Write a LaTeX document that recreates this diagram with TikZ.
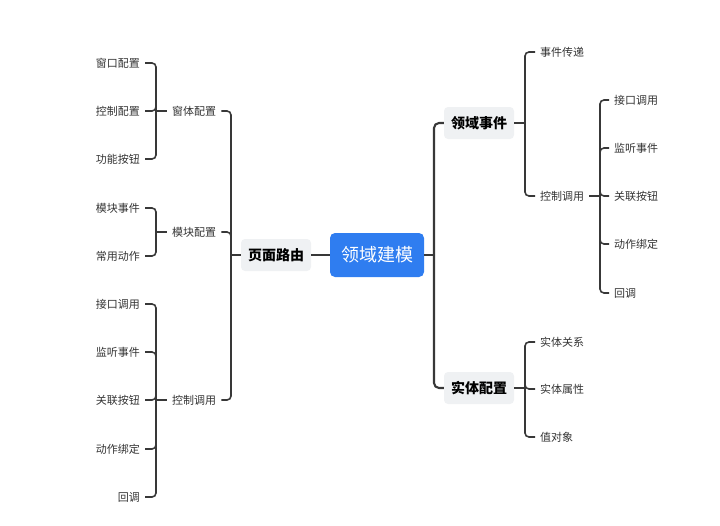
\documentclass[tikz,border=0pt]{standalone}
\usepackage{fontspec}
\setmainfont{Noto Sans CJK SC}
\usetikzlibrary{calc, positioning}
\definecolor{linegray}{HTML}{383838}
\definecolor{topblue}{HTML}{2F7DF0}
\definecolor{headgray}{HTML}{EFF1F3}
\tikzset{
	leaf/.style={inner xsep=5pt, inner ysep=2pt, text=black!80, font=\fontsize{11}{13}\selectfont},
	head/.style={fill=headgray, rounded corners=4pt, minimum width=70pt, minimum height=32pt, font=\fontsize{14}{16}\selectfont\bfseries},
	root/.style={fill=topblue, text=white, rounded corners=5pt, minimum width=94pt, minimum height=44pt, font=\fontsize{18}{20}\selectfont},
	branch/.style={draw=linegray, line width=1.6pt, rounded corners=4pt},
	trunk/.style={draw=linegray, line width=2.1pt, rounded corners=5pt}
}

\begin{document}
\begin{tikzpicture}[x=1pt, y=-1pt]
		\useasboundingbox (0,0) rectangle (720,525);
		\node[root] (dm) at (377,255) {领域建模};
		\node[head] (ym) at (276,255) {页面路由};
		\node[head] (ly) at (479,123) {领域事件};
		\node[head] (st) at (479,388) {实体配置};
		\coordinate (jym) at (231,255);
		\coordinate (jdm) at (434,255);
		\draw[trunk] (ym.east) -- (dm.west);
		\draw[trunk] (dm.east) -- (jdm);
		\draw[trunk] (jdm) |- (ly.west);
		\draw[trunk] (jdm) |- (st.west);
		\draw[branch] (jym) -- (ym.west);
% left side
		\node[leaf, anchor=west] (ct) at (167,111) {窗体配置};
		\node[leaf, anchor=west] (mk) at (167,232) {模块配置};
		\node[leaf, anchor=west] (kz) at (167,400) {控制调用};
\foreach \n in {ct,mk,kz}
	{\draw[branch] (\n.east) -| (jym);
	 \coordinate (j\n) at ($(\n.west)+(-11,0)$);
	 \draw[branch] (j\n) -- (\n.west);}
\foreach \t/\y/\n/\p in {窗口配置/63/a1/ct, 控制配置/111/a2/ct, 功能按钮/159/a3/ct,
		模块事件/208/b1/mk, 常用动作/256/b2/mk,
		接口调用/304/c1/kz, 监听事件/352/c2/kz, 关联按钮/400/c3/kz, 动作绑定/449/c4/kz, 回调/497/c5/kz}
	{\node[leaf, anchor=east] (\n) at (145,\y) {\t};
	 \draw[branch] (\n.east) -| (j\p);}
% right side
		\coordinate (jly) at (525,123);
		\coordinate (jst) at (525,388);
		\draw[branch] (ly.east) -- (jly);
		\draw[branch] (st.east) -- (jst);
		\node[leaf, anchor=west] (sj) at (535,52) {事件传递};
		\node[leaf, anchor=west] (kr) at (535,196) {控制调用};
		\draw[branch] (jly) |- (sj.west);
		\draw[branch] (jly) |- (kr.west);
		\coordinate (jkr) at (600,196);
		\draw[branch] (kr.east) -- (jkr);
\foreach \t/\y/\n in {接口调用/100/d1, 监听事件/148/d2, 关联按钮/196/d3, 动作绑定/244/d4, 回调/293/d5}
	{\node[leaf, anchor=west] (\n) at (609,\y) {\t};
	 \draw[branch] (jkr) |- (\n.west);}
\foreach \t/\y/\n in {实体关系/342/e1, 实体属性/389/e2, 值对象/437/e3}
	{\node[leaf, anchor=west] (\n) at (535,\y) {\t};
	 \draw[branch] (jst) |- (\n.west);}

\end{tikzpicture}
\end{document}
